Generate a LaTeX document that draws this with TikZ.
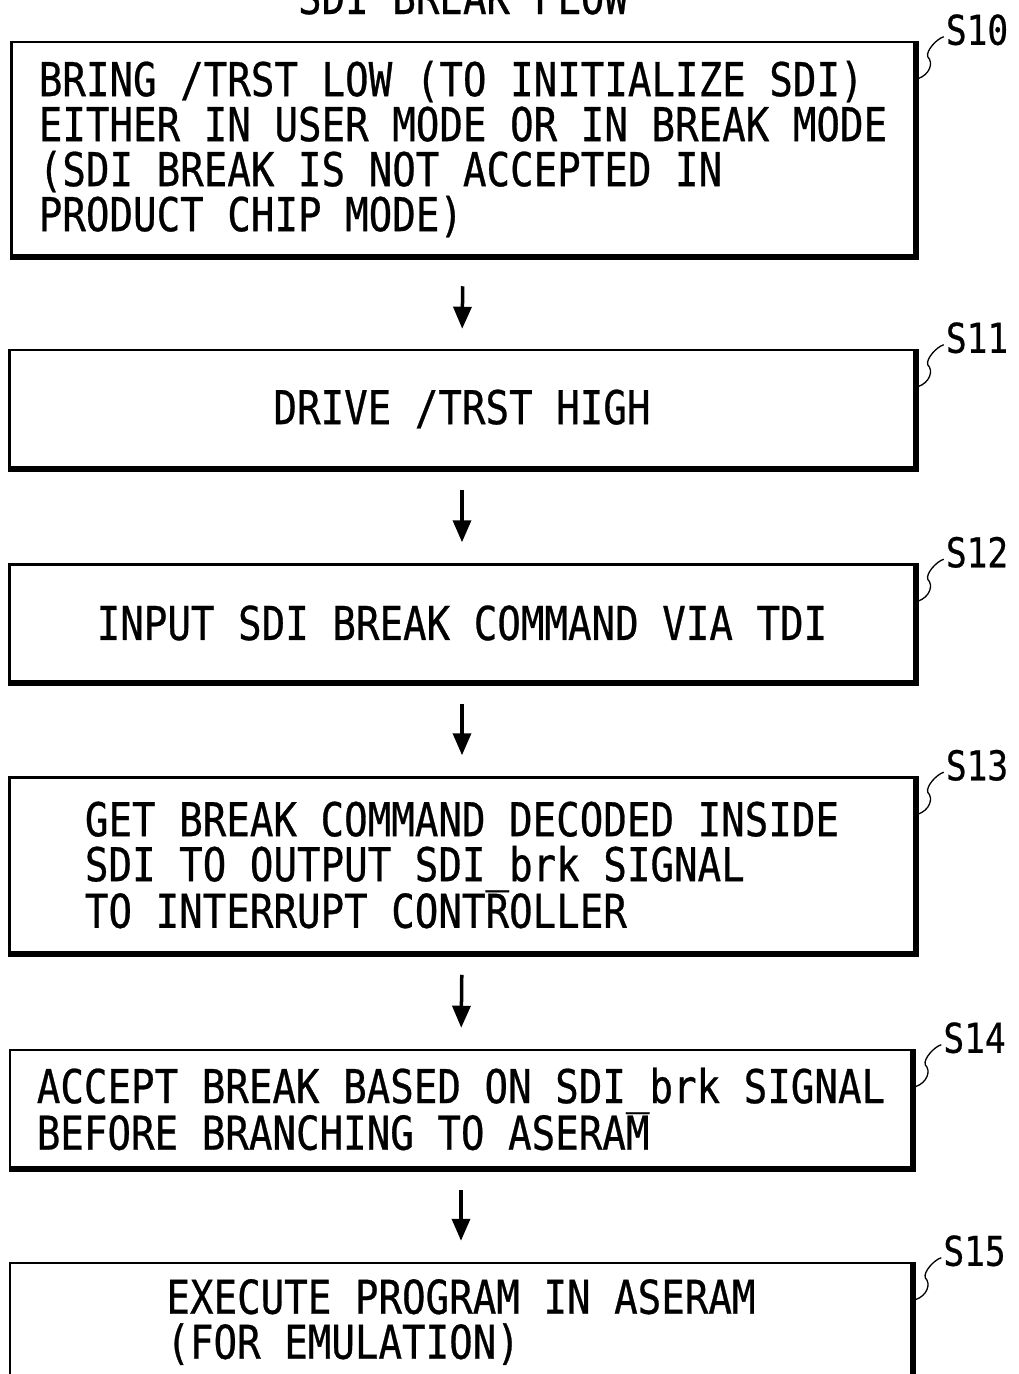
\documentclass[tikz,border=0pt]{standalone}
\usepackage{fontspec}
\newfontfamily\flowfont[FakeStretch=0.84,FakeBold=0.6]{DejaVu Sans Mono}
\usetikzlibrary{arrows.meta}

\begin{document}
\begin{tikzpicture}[x=1pt,y=-1pt,
    stepbox/.style={draw,line width=2.5pt,align=left,inner sep=0pt,
        font=\flowfont\fontsize{46.6}{45}\selectfont},
    heavy/.style={line width=6pt},
    steplabel/.style={inner sep=0pt,font=\flowfont\fontsize{41}{41}\selectfont},
    leader/.style={line width=1.3pt},
    flow/.style={line width=3.5pt,-{Triangle[length=22pt,width=18pt]},
        shorten <=21pt,shorten >=21pt}]

    \useasboundingbox (0,0) rectangle (1019,1374);
    \clip (0,0) rectangle (1019,1374);

    % title (cut at the top edge)
    \node[stepbox,draw=none,anchor=base] (title) at (463,14) {SDI BREAK FLOW};

    % steps
    \node[stepbox,minimum width=903pt,minimum height=214pt] (s10) at (463,149)
        {BRING /TRST LOW (TO INITIALIZE SDI)\\EITHER IN USER MODE OR IN BREAK MODE\\(SDI BREAK IS NOT ACCEPTED IN\\PRODUCT CHIP MODE)};
    \node[stepbox,minimum width=905pt,minimum height=118pt] (s11) at (462,409)
        {DRIVE /TRST HIGH};
    \node[stepbox,minimum width=905pt,minimum height=117pt] (s12) at (462,623)
        {INPUT SDI BREAK COMMAND VIA TDI};
    \node[stepbox,minimum width=905pt,minimum height=175pt] (s13) at (462,865)
        {GET BREAK COMMAND DECODED INSIDE\\SDI TO OUTPUT SDI\_brk SIGNAL\\TO INTERRUPT CONTROLLER};
    \node[stepbox,minimum width=902pt,minimum height=118pt] (s14) at (461,1109)
        {ACCEPT BREAK BASED ON SDI\_brk SIGNAL\\BEFORE BRANCHING TO ASERAM};
    \node[stepbox,minimum width=902pt,minimum height=118pt] (s15) at (461,1322)
        {EXECUTE PROGRAM IN ASERAM\\(FOR EMULATION)};

    % heavier right and bottom edges
    \foreach \s in {s10,s11,s12,s13,s14,s15}
        \draw[heavy] (\s.north east) -- (\s.south east) -- (\s.south west);

    % step numbers with their wavy leaders
    \foreach \s/\t in {s10/S10,s11/S11,s12/S12,s13/S13,s14/S14,s15/S15} {
        \node[steplabel,anchor=base west] (\s-lbl) at ([shift={(30,4)}]\s.north east) {\t};
        \draw[leader] ([shift={(2,38)}]\s.north east)
            .. controls +(12,-4) and +(6,6) .. ++(10,-22)
            .. controls +(-2,-6) and +(-7,2) .. ++(16,-20);
    }

    % arrows
    \draw[flow,shorten <=29pt,shorten >=20pt] (s10.south) -- (s11.north);
    \draw[flow] (s11.south) -- (s12.north);
    \draw[flow] (s12.south) -- (s13.north);
    \draw[flow] (s13.south) -- (s14.north);
    \draw[flow] (s14.south) -- (s15.north);

\end{tikzpicture}
\end{document}
